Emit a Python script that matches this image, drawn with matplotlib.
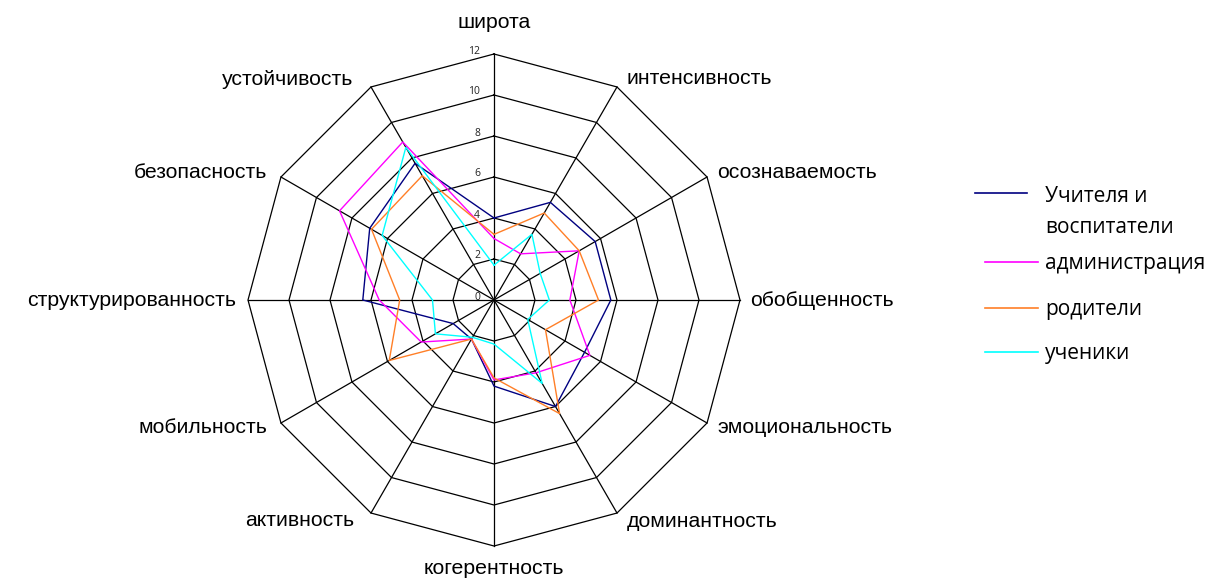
import numpy as np
import matplotlib.pyplot as plt
from matplotlib.lines import Line2D

# оси диаграммы (по часовой стрелке, начиная сверху)
categories = ['широта', 'интенсивность', 'осознаваемость', 'обобщенность',
              'эмоциональность', 'доминантность', 'когерентность', 'активность',
              'мобильность', 'структурированность', 'безопасность', 'устойчивость']

teachers = [4.0, 5.5, 5.7, 5.7, 5.1, 6.0, 4.2, 2.2, 2.3, 6.4, 7.0, 7.7]
admin = [3.0, 2.6, 4.8, 3.7, 5.4, 4.1, 3.9, 2.2, 4.1, 5.6, 8.7, 8.9]
parents = [3.2, 4.9, 4.8, 5.1, 2.9, 6.4, 3.8, 2.2, 5.9, 4.6, 6.9, 7.0]
students = [1.7, 3.7, 2.6, 2.7, 1.9, 4.7, 2.15, 2.1, 3.3, 3.0, 6.3, 8.6]

series_names = ['Учителя и\nвоспитатели', 'администрация', 'родители', 'ученики']
series_colors = ['#000080', '#ff00ff', '#ff7f27', '#00ffff']
ring_ticks = [0, 2, 4, 6, 8, 10, 12]

plt.rcParams['font.family'] = ['Liberation Sans', 'DejaVu Sans']

W, H = 1208, 583
cx, cy, R = 494, 300, 246
fig = plt.figure(figsize=(W / 100, H / 100), dpi=100)
ax = fig.add_axes([(cx - R) / W, (H - cy - R) / H, 2 * R / W, 2 * R / H],
                  projection='polar')
ax.set_theta_zero_location('N')
ax.set_theta_direction(-1)
ax.set_ylim(0, ring_ticks[-1])
ax.axis('off')

n = len(categories)
angles = np.linspace(0, 2 * np.pi, n, endpoint=False)
closed = np.append(angles, angles[0])

# сетка: многоугольники и лучи
for r in ring_ticks[1:]:
    ax.plot(closed, [r] * (n + 1), color='black', lw=0.9, clip_on=False, zorder=1)
for a in angles:
    ax.plot([a, a], [0, ring_ticks[-1]], color='black', lw=0.9, clip_on=False, zorder=1)

for t in ring_ticks:
    ax.annotate(str(t), xy=(0, t), xytext=(-14, 3), textcoords='offset pixels',
                ha='right', va='center', fontsize=7.5, color='#222222',
                family=['Open Sans', 'DejaVu Sans'])

# ряды
data = [teachers, admin, parents, students]
for vals, col in zip(data, series_colors):
    v = np.append(vals, vals[0])
    ax.plot(closed, v, color=col, lw=1.0, clip_on=False, zorder=3)

# подписи осей
for a, lab in zip(angles, categories):
    s, c = np.sin(a), np.cos(a)
    if abs(s) < 1e-6:
        ha = 'center'
        off = (0, 32) if c > 0 else (0, -23)
    elif s > 0:
        ha = 'left'
        off = (10, 10 * c)
    else:
        ha = 'right'
        off = (-12 - 7 * c * c, 9 * c)
    ax.annotate(lab, xy=(a, ring_ticks[-1]), xytext=off, textcoords='offset pixels',
                ha=ha, va='center', fontsize=15.3)

# легенда
legend_rows = [(975, 1027, 193, 212), (985, 1038, 262, 263),
               (985, 1038, 308, 309), (985, 1038, 352, 354)]
for (x0, x1, ly, ty), name, col in zip(legend_rows, series_names, series_colors):
    fig.add_artist(Line2D([x0 / W, x1 / W], [1 - ly / H, 1 - ly / H],
                          color=col, lw=1.2, transform=fig.transFigure))
    fig.text(1045 / W, 1 - ty / H, name, ha='left', va='center', fontsize=15,
             linespacing=1.6, family=['Open Sans', 'DejaVu Sans'])

fig.savefig('out.png', dpi=100)
